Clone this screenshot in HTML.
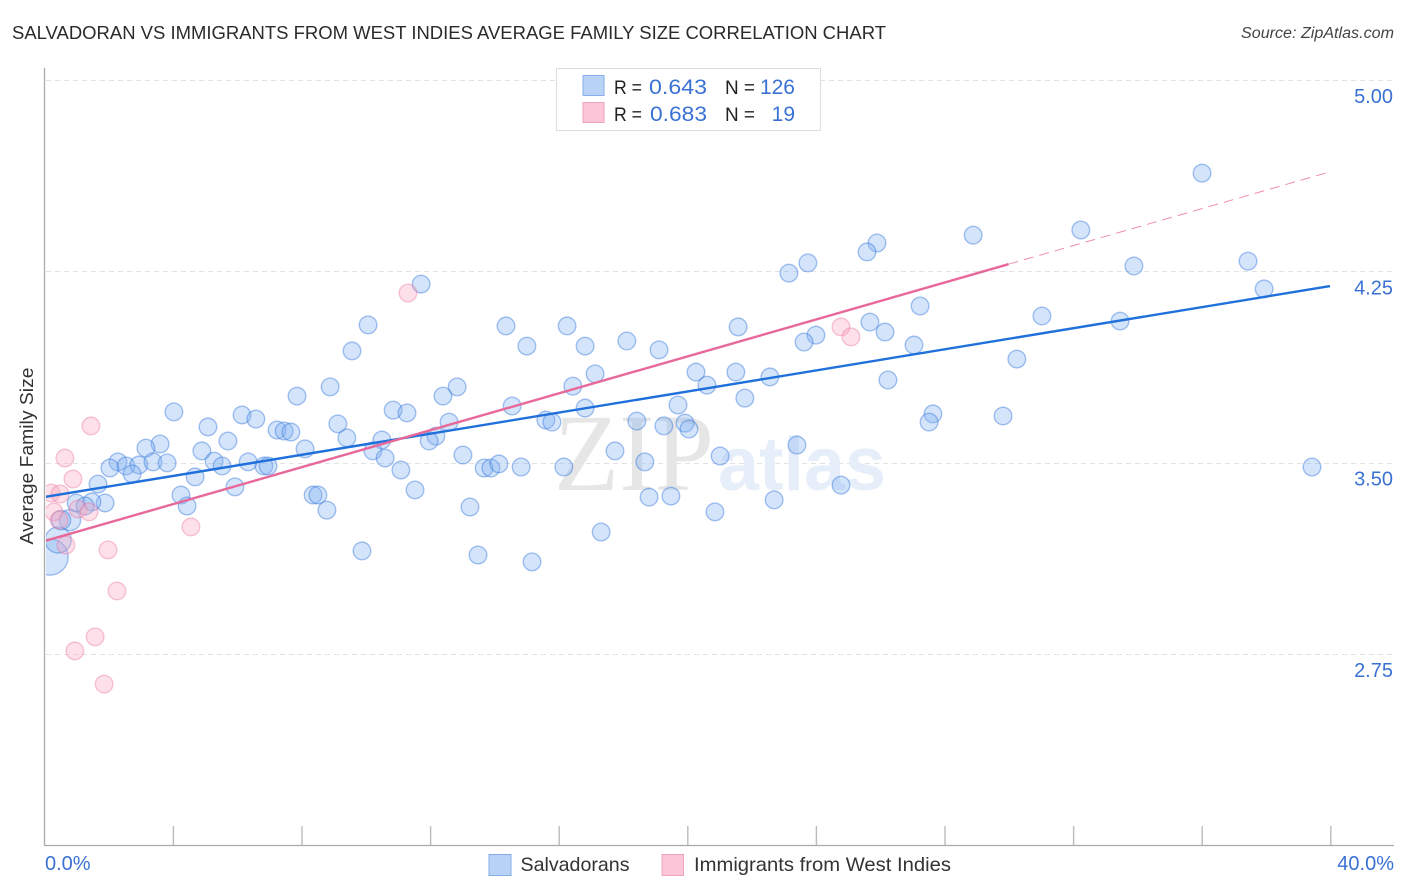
<!DOCTYPE html>
<html lang="en">
<head>
<meta charset="utf-8">
<title>Salvadoran vs Immigrants from West Indies Average Family Size Correlation Chart</title>
<style>
html,body{margin:0;padding:0;background:#fff;}
body{width:1406px;height:892px;overflow:hidden;}
svg{display:block;}
text{font-family:"Liberation Sans",sans-serif;}
</style>
</head>
<body>
<svg id="chart" xmlns="http://www.w3.org/2000/svg" width="1406" height="892" viewBox="0 0 1406 892">
  <defs>
    <clipPath id="plot-clip"><rect x="46" y="68" width="1350" height="777"/></clipPath>
  </defs>
  <text x="12" y="39" font-size="18.5" fill="#2b2b2b" textLength="874" lengthAdjust="spacingAndGlyphs">SALVADORAN VS IMMIGRANTS FROM WEST INDIES AVERAGE FAMILY SIZE CORRELATION CHART</text>
  <text x="1394" y="38" font-size="15.5" font-style="italic" fill="#444" text-anchor="end" textLength="153" lengthAdjust="spacingAndGlyphs">Source: ZipAtlas.com</text>

  <g id="grid-layer"></g>

  <g>
    <text x="554" y="490" style="font-family:'Liberation Serif',serif" font-size="110" fill="#e6e6e6" textLength="160" lengthAdjust="spacingAndGlyphs">ZIP</text>
    <text x="718" y="490" font-size="76" font-weight="bold" fill="#e6eefa" textLength="168" lengthAdjust="spacingAndGlyphs">atlas</text>
  </g>

  <g id="axis-layer">
    <line x1="44.5" y1="68" x2="44.5" y2="845.5" stroke="#aaaaaa" stroke-width="1.3"/>
    <line x1="44" y1="845.5" x2="1394" y2="845.5" stroke="#aaaaaa" stroke-width="1.3"/>
  </g>

  <g id="marks-blue" clip-path="url(#plot-clip)"></g>
  <g id="marks-pink" clip-path="url(#plot-clip)"></g>
  <g id="trend-layer" clip-path="url(#plot-clip)"></g>

  <text transform="translate(33,456) rotate(-90)" font-size="18" fill="#333" text-anchor="middle" textLength="177" lengthAdjust="spacingAndGlyphs">Average Family Size</text>
  <g id="tick-labels"></g>

  <g>
    <rect x="556.5" y="68.5" width="264" height="62" fill="#fff" stroke="#dddddd" stroke-width="1"/>
    <rect x="583" y="75.5" width="21" height="20" fill="#b9d3f6" stroke="#86aee8" stroke-width="1"/>
    <rect x="583" y="102.5" width="21" height="20" fill="#fcc6d8" stroke="#f0a3bd" stroke-width="1"/>
    <text x="614" y="94" font-size="19" fill="#222" textLength="28" lengthAdjust="spacingAndGlyphs">R =</text>
    <text x="649" y="94" font-size="21" fill="#3a72d4" textLength="58" lengthAdjust="spacingAndGlyphs">0.643</text>
    <text x="725" y="94" font-size="19" fill="#222" textLength="30" lengthAdjust="spacingAndGlyphs">N =</text>
    <text x="795" y="94" font-size="21" fill="#3a72d4" text-anchor="end">126</text>
    <text x="614" y="121" font-size="19" fill="#222" textLength="28" lengthAdjust="spacingAndGlyphs">R =</text>
    <text x="650" y="121" font-size="21" fill="#3a72d4" textLength="57" lengthAdjust="spacingAndGlyphs">0.683</text>
    <text x="725" y="121" font-size="19" fill="#222" textLength="30" lengthAdjust="spacingAndGlyphs">N =</text>
    <text x="795" y="121" font-size="21" fill="#3a72d4" text-anchor="end">19</text>
  </g>

  <g>
    <rect x="489" y="854.5" width="22" height="21" fill="#b9d3f6" stroke="#86aee8" stroke-width="1"/>
    <text x="520.5" y="871" font-size="19.5" fill="#333" textLength="109" lengthAdjust="spacingAndGlyphs">Salvadorans</text>
    <rect x="662" y="854.5" width="21.5" height="21" fill="#fcc6d8" stroke="#f0a3bd" stroke-width="1"/>
    <text x="694" y="871" font-size="19.5" fill="#333" textLength="257" lengthAdjust="spacingAndGlyphs">Immigrants from West Indies</text>
  </g>
</svg>
<script>
// Axis ticks
const xTickValues = [0, 4, 8, 12, 16, 20, 24, 28, 32, 36, 40];
const xTickLabels = ["0.0%", "40.0%"];
const yTickValues = [5.00, 4.25, 3.50, 2.75];
const yTickLabels = ["5.00", "4.25", "3.50", "2.75"];

// Salvadorans: x = share (%), y = average family size, weight = relative sample size
const salvadoranX = [0.19,0.44,0.81,0.53,1.00,36.02,32.25,28.90,37.45,33.90,25.91,25.60,23.76,23.17,11.73,37.95,27.25,31.04,33.47,25.69,26.16,24.01,23.64,21.59,27.06,16.27,14.37,10.08,9.58,15.02,16.83,18.13,19.13,30.26,20.28,21.52,22.58,26.25,20.62,17.14,16.45,12.85,8.90,7.87,12.41,21.80,14.56,19.72,16.83,10.86,11.29,4.04,6.16,6.59,9.14,12.60,15.61,15.80,18.44,19.28,19.94,20.06,27.65,27.53,29.83,5.10,7.25,7.47,7.68,12.19,11.98,9.42,10.51,5.72,3.61,3.17,4.91,8.12,10.23,10.61,13.03,17.76,23.42,21.03,2.30,2.05,2.55,2.95,3.39,3.83,5.29,5.54,6.35,6.84,6.97,11.10,13.69,13.90,14.15,14.84,16.17,18.69,39.44,2.74,4.70,1.68,5.94,11.54,24.79,4.26,8.37,8.52,18.82,19.50,22.71,1.90,1.49,4.45,8.80,13.25,20.87,1.28,17.33,9.89,13.50,15.18];
const salvadoranY = [3.130,3.197,3.275,3.275,3.342,4.635,4.412,4.392,4.290,4.271,4.361,4.326,4.283,4.243,4.200,4.181,4.114,4.075,4.055,4.051,4.012,4.000,3.973,4.032,3.961,4.036,4.036,4.040,3.938,3.957,3.957,3.977,3.942,3.906,3.855,3.855,3.836,3.824,3.804,3.848,3.800,3.797,3.797,3.761,3.761,3.753,3.722,3.726,3.714,3.706,3.695,3.699,3.687,3.671,3.652,3.659,3.667,3.659,3.663,3.644,3.655,3.632,3.691,3.659,3.683,3.640,3.628,3.624,3.620,3.604,3.585,3.597,3.589,3.585,3.573,3.557,3.546,3.554,3.546,3.518,3.530,3.546,3.569,3.526,3.503,3.479,3.487,3.491,3.503,3.499,3.506,3.487,3.503,3.487,3.487,3.471,3.479,3.479,3.495,3.483,3.483,3.503,3.483,3.456,3.444,3.416,3.405,3.393,3.412,3.373,3.373,3.373,3.365,3.369,3.354,3.342,3.346,3.330,3.314,3.326,3.307,3.330,3.228,3.154,3.138,3.111];
const salvadoranWeight = [4.2,2.2,1.45,1.2,1];

// Immigrants from West Indies
const westIndiesX = [11.32,24.79,25.10,1.46,0.65,0.90,0.22,0.50,0.31,1.06,1.40,0.47,0.68,1.99,4.57,2.27,1.59,0.96,1.87];
const westIndiesY = [4.165,4.032,3.993,3.644,3.518,3.436,3.381,3.377,3.307,3.318,3.307,3.275,3.177,3.158,3.248,2.997,2.817,2.762,2.632];

// Trend lines (x in %, y in family size)
const salvadoranTrendX = [0, 40];
const salvadoranTrendY = [3.365, 4.192];
const westIndiesTrendX = [0, 30];
const westIndiesTrendY = [3.192, 4.278];
const westIndiesProjectedX = [30, 40];
const westIndiesProjectedY = [4.278, 4.640];

// Axis functions
function xScale(v) { return 44 + v * 32.15; }
function yScale(v) { return 80 + (5 - v) * 255.1; }

const NS = "http://www.w3.org/2000/svg";
function make(tag, attrs, parent, text) {
  const el = document.createElementNS(NS, tag);
  for (const k in attrs) el.setAttribute(k, attrs[k]);
  if (text !== undefined) el.textContent = text;
  parent.appendChild(el);
  return el;
}

const gridLayer = document.getElementById("grid-layer");
const axisLayer = document.getElementById("axis-layer");
const labelLayer = document.getElementById("tick-labels");
const blueLayer = document.getElementById("marks-blue");
const pinkLayer = document.getElementById("marks-pink");
const trendLayer = document.getElementById("trend-layer");

yTickValues.forEach(function (v, i) {
  const y = Math.round(yScale(v)) + 0.5;
  const g = make("line", {x1: 46, y1: y, x2: 1394, y2: y, stroke: "#e2e2e2", "stroke-width": 1, "stroke-dasharray": "5 4"}, gridLayer);
  
  
  const t = make("text", {x: 1393, y: yScale(v) + 23, "font-size": 20, fill: "#3a72d4", "text-anchor": "end"}, labelLayer, yTickLabels[i]);
  
  
});

xTickValues.slice(1).forEach(function (v) {
  const x = xScale(v) + 0.8;
  const tick = make("line", {x1: x, y1: 826, x2: x, y2: 845, stroke: "#bbbbbb", "stroke-width": 1.4}, axisLayer);
  
  
});

const xLabelFirst = make("text", {x: 45, y: 870, "font-size": 20, fill: "#3a72d4"}, labelLayer, xTickLabels[0]);


const xLabelLast = make("text", {x: 1394, y: 870, "font-size": 20, fill: "#3a72d4", "text-anchor": "end"}, labelLayer, xTickLabels[1]);



salvadoranX.forEach(function (v, i) {
  const w = salvadoranWeight[i] === undefined ? 1 : salvadoranWeight[i];
  const c = make("circle", {cx: xScale(v), cy: yScale(salvadoranY[i]), r: 8.8 * Math.sqrt(w), fill: "rgba(130,175,240,0.34)", stroke: "rgba(45,115,220,0.42)", "stroke-width": 1.4}, blueLayer);
  
  
});

westIndiesX.forEach(function (v, i) {
  const c = make("circle", {cx: xScale(v), cy: yScale(westIndiesY[i]), r: 8.8, fill: "rgba(250,165,190,0.34)", stroke: "rgba(235,110,155,0.38)", "stroke-width": 1.4}, pinkLayer);
  
  
});

const blueTrend = make("line", {x1: xScale(salvadoranTrendX[0]), y1: yScale(salvadoranTrendY[0]), x2: xScale(salvadoranTrendX[1]), y2: yScale(salvadoranTrendY[1]), stroke: "#2070dc", "stroke-width": 2.4}, trendLayer);



const pinkTrend = make("line", {x1: xScale(westIndiesTrendX[0]), y1: yScale(westIndiesTrendY[0]), x2: xScale(westIndiesTrendX[1]), y2: yScale(westIndiesTrendY[1]), stroke: "#e8689a", "stroke-width": 2.4}, trendLayer);



const pinkProjected = make("line", {x1: xScale(westIndiesProjectedX[0]), y1: yScale(westIndiesProjectedY[0]), x2: xScale(westIndiesProjectedX[1]), y2: yScale(westIndiesProjectedY[1]), stroke: "#ee8fb0", "stroke-width": 1, "stroke-dasharray": "10 6"}, trendLayer);


</script>
</body>
</html>
